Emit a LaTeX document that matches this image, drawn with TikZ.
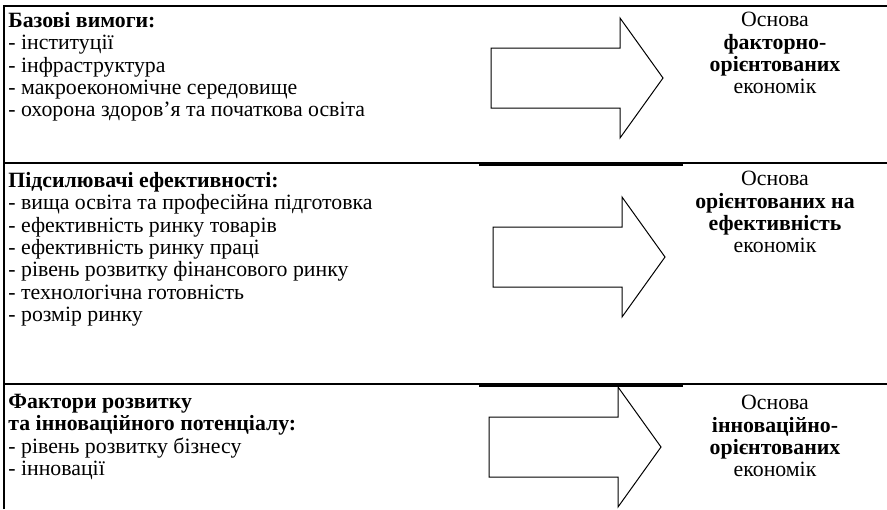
\documentclass[tikz,border=0pt]{standalone}
\usepackage{fontspec}
\setmainfont{Liberation Serif}
\usetikzlibrary{positioning}

\tikzset{
  rule/.style={line width=.6pt},
  thickrule/.style={line width=1.2pt},
  factors/.style={anchor=north west, align=left, inner sep=0pt,
    font=\fontsize{10.9pt}{11.15pt}\selectfont},
  basis/.style={anchor=north, align=center, inner sep=0pt,
    font=\fontsize{10.9pt}{11.15pt}\selectfont},
  bigarrow/.style={line width=.5pt, line join=miter}
}

\begin{document}
\begin{tikzpicture}[x=.5pt,y=-.5pt]
\useasboundingbox (0,0) rectangle (887,509);
% frame and row rules
\draw[rule](4,509)--(4,6)--(887,6);
\draw[rule](4,163)--(887,163);
\draw[rule](4,384)--(887,384);
\draw[thickrule](479,165)--(683,165);
\draw[thickrule](479,386)--(683,386);
% arrows
\foreach \l/\cy in {491/78, 493/257, 489/447}
  \draw[bigarrow](\l,{\cy-30})--({\l+129},{\cy-30})--({\l+129},{\cy-60})
    --({\l+172},\cy)--({\l+129},{\cy+60})--({\l+129},{\cy+30})
    --(\l,{\cy+30})--cycle;
% factor groups
\node[factors] (basic) at (8,12) {\textbf{Базові вимоги:}\\
  - інституції\\
  - інфраструктура\\
  - макроекономічне середовище\\
  - охорона здоров’я та початкова освіта};
\node[factors] (efficiency) at (8,172) {\textbf{Підсилювачі ефективності:}\\
  - вища освіта та професійна підготовка\\
  - ефективність ринку товарів\\
  - ефективність ринку праці\\
  - рівень розвитку фінансового ринку\\
  - технологічна готовність\\
  - розмір ринку};
\node[factors] (innovation) at (8,394) {\textbf{Фактори розвитку}\\
  \textbf{та інноваційного потенціалу:}\\
  - рівень розвитку бізнесу\\
  - інновації};
% economy types
\node[basis] (basicbase) at (775,12) {Основа\\ \textbf{факторно-}\\
  \textbf{орієнтованих}\\ економік};
\node[basis] (effbase) at (775,171) {Основа\\ \textbf{орієнтованих на}\\
  \textbf{ефективність}\\ економік};
\node[basis] (innobase) at (775,395) {Основа\\ \textbf{інноваційно-}\\
  \textbf{орієнтованих}\\ економік};
\end{tikzpicture}
\end{document}
